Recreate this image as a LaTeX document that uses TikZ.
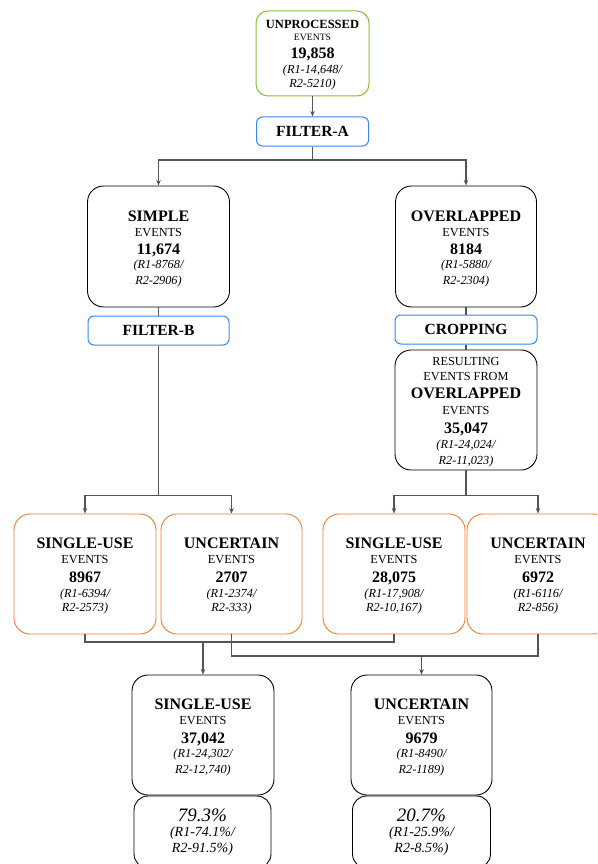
\documentclass[tikz,border=0pt]{standalone}
\usepackage{fontspec}
\setmainfont{Liberation Serif}
\usetikzlibrary{arrows.meta}
\definecolor{gbord}{RGB}{134,190,60}
\definecolor{bbord}{RGB}{60,135,245}
\definecolor{obord}{RGB}{245,125,40}
\definecolor{lcol}{RGB}{85,85,85}
\newcommand\fsz[1]{\fontsize{#1}{#1}\selectfont}
\newcommand\hT[1]{\rule{0pt}{15pt}\fsz{16}\bfseries #1}
\newcommand\hB[1]{\fsz{16}\bfseries #1}
\newcommand\hE[1]{\fsz{12.3}#1}
\newcommand\hN[1]{\fsz{16}\bfseries #1}
\newcommand\hR[1]{\fsz{12.3}\itshape #1}
\tikzset{
  every node/.style={inner sep=0pt},
  ebox/.style={draw=black, line width=0.9pt, rounded corners=16pt, minimum width=142pt,
    minimum height=120pt, align=center, font=\fontsize{12}{15.3}\selectfont},
  obox/.style={ebox, draw=obord},
  gbox/.style={draw=gbord, line width=1pt, rounded corners=12pt, minimum width=113pt,
    minimum height=85pt, align=center, font=\fontsize{12}{13.5}\selectfont},
  fbox/.style={draw=bbord, line width=1pt, rounded corners=6pt, minimum width=142pt,
    minimum height=29pt, font=\bfseries\fontsize{15.5}{16}\selectfont},
  pbox/.style={draw=black, line width=0.9pt, rounded corners=14pt, minimum width=137pt,
    minimum height=72pt, align=center, font=\fontsize{14}{15.5}\selectfont\itshape},
  ln/.style={draw=lcol, line width=1.1pt},
  arr/.style={ln, -{Stealth[length=5.5pt,width=4.5pt]}},
}
\begin{document}
\begin{tikzpicture}[x=1pt,y=-1pt]
\useasboundingbox (0,0) rectangle (597,864);
\clip (0,0) rectangle (597,864);
% top
\node[gbox] (top) at (312.5,53.5) {\rule{0pt}{11pt}\fsz{12.5}\bfseries UNPROCESSED\\[-1pt]
  \fsz{9.7}EVENTS\\[4pt] \hN{19,858}\\[2pt] \hR{(R1-14,648/}\\ \hR{R2-5210)}};
\node[fbox, minimum width=112pt] (fa) at (312.5,131.5) {FILTER-A};
% second level
\node[ebox, minimum height=121pt] (simple) at (158.5,246.5) {\hT{SIMPLE}\\ \hE{EVENTS}\\[3pt] \hN{11,674}\\[-1pt] \hR{(R1-8768/}\\ \hR{R2-2906)}};
\node[ebox, minimum height=121pt, minimum width=141pt] (over) at (466,246.5) {\hT{OVERLAPPED}\\ \hE{EVENTS}\\[3pt] \hN{8184}\\[-1pt] \hR{(R1-5880/}\\ \hR{R2-2304)}};
\node[fbox, minimum width=141pt] (fb) at (158.5,330.5) {FILTER-B};
\node[fbox] (crop) at (466,329.5) {CROPPING};
\node[ebox] (res) at (466,410) {\rule{0pt}{12.5pt}\hE{RESULTING}\\[-0.7pt] \hE{EVENTS FROM}\\[3pt] \hB{OVERLAPPED}\\[1pt] \hE{EVENTS}\\[3.3pt] \hN{35,047}\\ \hR{(R1-24,024/}\\ \hR{R2-11,023)}};
% orange row
\node[obox] (su1) at (85,574) {\hT{SINGLE-USE}\\ \hE{EVENTS}\\[3.5pt] \hN{8967}\\[-0.5pt] \hR{(R1-6394/}\\[-1pt] \hR{R2-2573)}};
\node[obox, minimum width=141pt] (un1) at (231.5,574) {\hT{UNCERTAIN}\\ \hE{EVENTS}\\[3.5pt] \hN{2707}\\[-0.5pt] \hR{(R1-2374/}\\[-1pt] \hR{R2-333)}};
\node[obox] (su2) at (394,574) {\hT{SINGLE-USE}\\ \hE{EVENTS}\\[3.5pt] \hN{28,075}\\[-0.5pt] \hR{(R1-17,908/}\\[-1pt] \hR{R2-10,167)}};
\node[obox] (un2) at (538,574) {\hT{UNCERTAIN}\\ \hE{EVENTS}\\[3.5pt] \hN{6972}\\[-0.5pt] \hR{(R1-6116/}\\[-1pt] \hR{R2-856)}};
% final
\node[ebox] (fsu) at (203,735) {\hT{SINGLE-USE}\\ \hE{EVENTS}\\[3.5pt] \hN{37,042}\\[-1pt] \hR{(R1-24,302/}\\ \hR{R2-12,740)}};
\node[ebox, minimum width=141pt] (fun) at (421.5,735) {\hT{UNCERTAIN}\\ \hE{EVENTS}\\[3.5pt] \hN{9679}\\[-1pt] \hR{(R1-8490/}\\ \hR{R2-1189)}};
\node[pbox] (psu) at (202.5,832) {{\fsz{19}79.3\%}\\[-0.5pt] (R1-74.1\%/\\[1.1pt] R2-91.5\%)};
\node[pbox, minimum width=138pt] (pun) at (421.5,832) {{\fsz{19}20.7\%}\\[-0.5pt] (R1-25.9\%/\\[1.1pt] R2-8.5\%)};
% connectors
\draw[arr] (top) -- (fa);
\coordinate (j1) at (312.5,160);
\draw[ln] (fa.south) -- (j1);
\draw[arr] (j1) -| (simple.north);
\draw[arr] (j1) -| (over.north);
\draw[ln] (simple) -- (fb);
\coordinate (j2) at (158.5,495.5);
\draw[ln] (fb.south) -- (j2);
\draw[arr] (j2) -| (su1.north);
\draw[arr] (j2) -| (un1.north);
\draw[ln] (over) -- (crop);
\draw[ln] (crop) -- (res);
\coordinate (j3) at (466,495.5);
\draw[ln] (res.south) -- (j3);
\draw[arr] (j3) -| (su2.north);
\draw[arr] (j3) -| (un2.north);
\coordinate (m1) at (203,642);
\draw[ln] (su1.south) |- (m1) -| (su2.south);
\draw[arr] (m1) -- (fsu.north);
\coordinate (m2) at (421.5,656);
\draw[ln] (un1.south) |- (m2) -| (un2.south);
\draw[arr] (m2) -- (fun.north);
\end{tikzpicture}
\end{document}
